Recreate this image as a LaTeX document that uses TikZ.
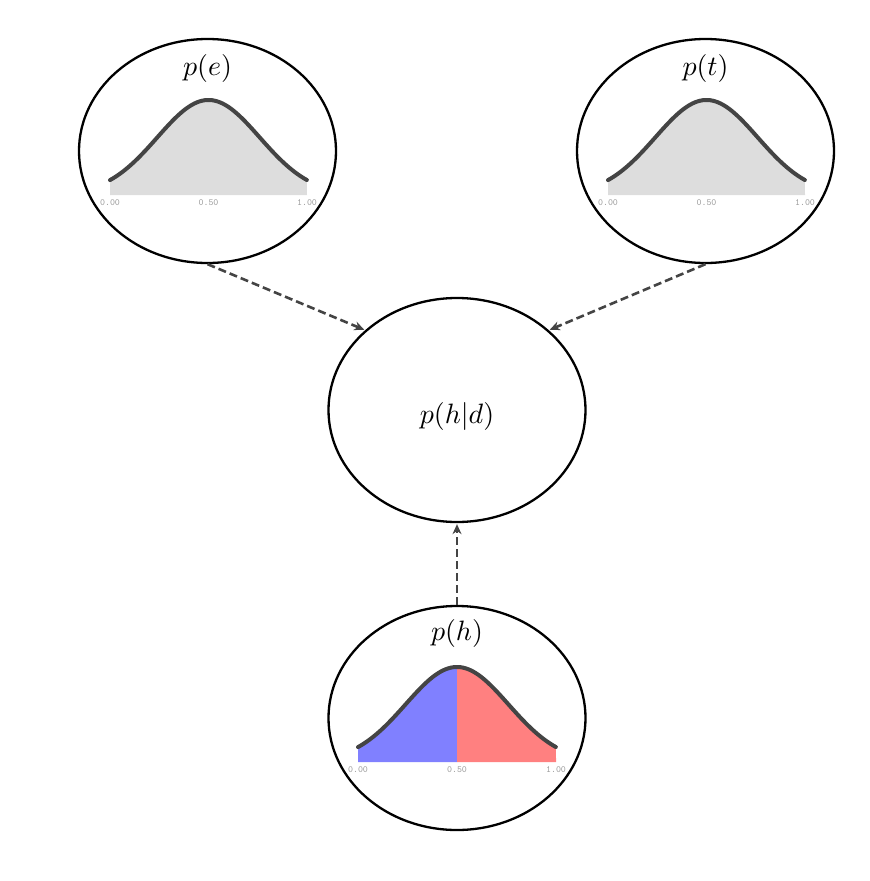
\documentclass[tikz,border=0pt]{standalone}
\usepackage{graphicx}
\usetikzlibrary{shapes.geometric,arrows.meta}
\definecolor{curvec}{HTML}{444444}
\definecolor{fillg}{HTML}{DDDDDD}
\definecolor{fillb}{HTML}{8080FF}
\definecolor{fillr}{HTML}{FF8080}
\definecolor{tickc}{HTML}{9A9A9A}
\newcommand{\gaussfn}[1]{exp(-((#1-0.5)^2)/0.135)}
\newcommand{\bigmath}[1]{\scalebox{2.8}{$#1$}}
\tikzset{
  ell/.style={ellipse, draw=black, line width=2.3pt, minimum width=257pt, minimum height=224pt, inner sep=0pt},
  title/.style={inner sep=0pt},
  tick/.style={font=\ttfamily\fontsize{9.5}{10}\selectfont, text=tickc, inner sep=0pt},
  curve/.style={draw=curvec, line width=4pt, line cap=round},
  conn/.style={draw=curvec, line width=2.6pt, dash pattern=on 8pt off 4pt, -{Stealth[length=10pt,width=9pt]}, shorten >=1pt}
}
\begin{document}
\begin{tikzpicture}[x=1pt,y=-1pt]
\useasboundingbox (0,0) rectangle (870,881);
% ellipses
\node[ell] (pe) at (207.5,151) {};
\node[ell] (pt) at (705.5,151) {};
\node[ell] (phd) at (457,410) {};
\node[ell] (ph) at (457,718) {};
% titles
\node[title] (tpe) at (207.5,68) {\bigmath{p(e)}};
\node[title] (tpt) at (705.5,68) {\bigmath{p(t)}};
\node[title] (tphd) at (457,416) {\bigmath{p(h|d)}};
\node[title] (tph) at (457,633) {\bigmath{p(h)}};
% top-left density
\fill[fillg] (110,195) -- plot[domain=0:1,samples=80] ({110+197*\x},{195-95*\gaussfn{\x}}) -- (307,195) -- cycle;
\draw[curve] plot[domain=0:1,samples=80] ({110+197*\x},{195-95*\gaussfn{\x}});
\node[tick] (pe0) at (110,203) {0.00};
\node[tick] (pe5) at (208.5,203) {0.50};
\node[tick] (pe1) at (307,203) {1.00};
% top-right density
\fill[fillg] (608,195) -- plot[domain=0:1,samples=80] ({608+197*\x},{195-95*\gaussfn{\x}}) -- (805,195) -- cycle;
\draw[curve] plot[domain=0:1,samples=80] ({608+197*\x},{195-95*\gaussfn{\x}});
\node[tick] (pt0) at (608,203) {0.00};
\node[tick] (pt5) at (706.5,203) {0.50};
\node[tick] (pt1) at (805,203) {1.00};
% bottom density
\fill[fillb] (358,762) -- plot[domain=0:0.5,samples=40] ({358+198*\x},{762-95*\gaussfn{\x}}) -- (457,762) -- cycle;
\fill[fillr] (457,762) -- plot[domain=0.5:1,samples=40] ({358+198*\x},{762-95*\gaussfn{\x}}) -- (556,762) -- cycle;
\draw[curve] plot[domain=0:1,samples=80] ({358+198*\x},{762-95*\gaussfn{\x}});
\node[tick] (ph0) at (358,770) {0.00};
\node[tick] (ph5) at (457,770) {0.50};
\node[tick] (ph1) at (556,770) {1.00};
% connectors
\draw[conn] (pe.south) -- (phd.139);
\draw[conn] (pt.south) -- (phd.41);
\draw[conn] (ph.north) -- (phd.south);
\end{tikzpicture}
\end{document}
